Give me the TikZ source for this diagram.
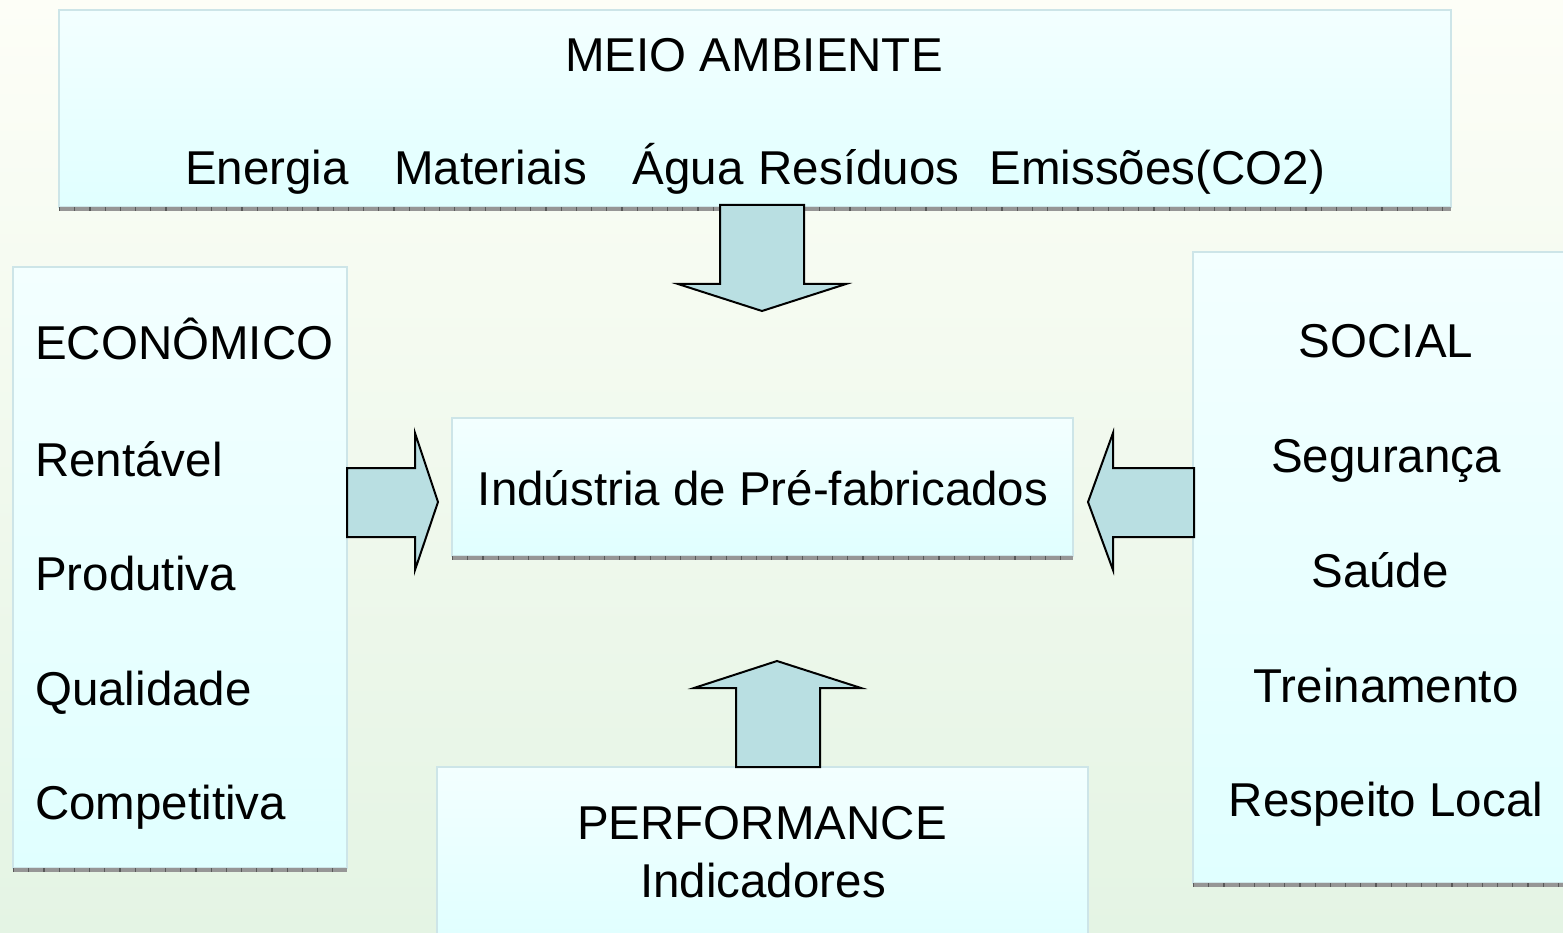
\documentclass[tikz,border=0pt]{standalone}
\usepackage{fontspec}
\setmainfont{Liberation Sans}
\definecolor{bgtop}{RGB}{253,254,247}
\definecolor{bgbot}{RGB}{228,244,228}
\definecolor{boxtop}{RGB}{243,255,255}
\definecolor{boxbot}{RGB}{224,255,255}
\definecolor{boxedge}{RGB}{205,229,232}
\definecolor{arrowfill}{RGB}{185,223,226}
\definecolor{shadowgray}{RGB}{150,150,150}
\begin{document}
\begin{tikzpicture}[x=1pt,y=-1pt,
  box/.style={draw=boxedge, line width=1.5pt, top color=boxtop, bottom color=boxbot, rectangle, inner sep=0pt},
  shadowline/.style={draw=shadowgray, line width=4pt},
  shadowticks/.style={draw=black!65, line width=4pt, dash pattern=on 1.2pt off 14pt},
  blockarrow/.style={draw=black, line width=2pt, fill=arrowfill, line join=miter},
  lbl/.style={anchor=base, inner sep=0pt, font=\fontsize{47.5}{57}\selectfont},
  lbll/.style={lbl, anchor=base west}]
% page and background
\useasboundingbox (0,0) rectangle (1563,933);
\shade[top color=bgtop, bottom color=bgbot] (0,0) rectangle (1563,933);

% boxes
\node[box, minimum width=1392pt, minimum height=197pt] (meio) at (755,108.5) {};
\node[box, minimum width=334pt, minimum height=601pt] (econ) at (180,567.5) {};
\node[box, minimum width=380pt, minimum height=631pt] (social) at (1383,567.5) {};
\node[box, minimum width=621pt, minimum height=138pt] (ind) at (762.5,487) {};
\node[box, minimum width=651pt, minimum height=175pt] (perf) at (762.5,854.5) {};

% shadow lines under boxes
\foreach \a/\b/\y in {59/1451/209, 13/347/870, 1193/1563/885, 452/1073/558}{
  \draw[shadowline] (\a,\y) -- (\b,\y);
  \draw[shadowticks] (\a,\y) -- (\b,\y);
}

% texts
\node[lbl] (t1) at (754,72) {MEIO AMBIENTE};
\node[lbl] (t2) at (755,185) {Energia~~~\hspace{6pt}Materiais~~~\hspace{6pt}Água\hspace{2pt} Resíduos~~\hspace{4pt}Emissões(CO2)};

\node[lbll] (e1) at (35,359) {ECONÔMICO};
\node[lbll] (e2) at (35,476) {Rentável};
\node[lbll] (e3) at (35,590) {Produtiva};
\node[lbll] (e4) at (35,705) {Qualidade};
\node[lbll] (e5) at (35,819) {Competitiva};

\node[lbl] (s1) at (1386,357) {SOCIAL};
\node[lbl] (s2) at (1386,472) {Segurança};
\node[lbl] (s3) at (1380,587) {Saúde};
\node[lbl] (s4) at (1386,702) {Treinamento};
\node[lbl] (s5) at (1386,816) {Respeito Local};

\node[lbl] (c1) at (763,505) {Indústria de Pré-fabricados};

\node[lbl] (p1) at (762,839) {PERFORMANCE};
\node[lbl] (p2) at (763,897) {Indicadores};

% block arrows
\draw[blockarrow] (720,205) -- (804,205) -- (804,284) -- (846,284) -- (762,311) -- (678,284) -- (720,284) -- cycle;
\draw[blockarrow] (347,468) -- (415,468) -- (415,433) -- (438,502) -- (415,570) -- (415,537) -- (347,537) -- cycle;
\draw[blockarrow] (1194,468) -- (1113,468) -- (1113,433) -- (1088,502) -- (1113,570) -- (1113,537) -- (1194,537) -- cycle;
\draw[blockarrow] (736,767) -- (736,688) -- (694,688) -- (777,661) -- (861,688) -- (820,688) -- (820,767) -- cycle;
\end{tikzpicture}
\end{document}
